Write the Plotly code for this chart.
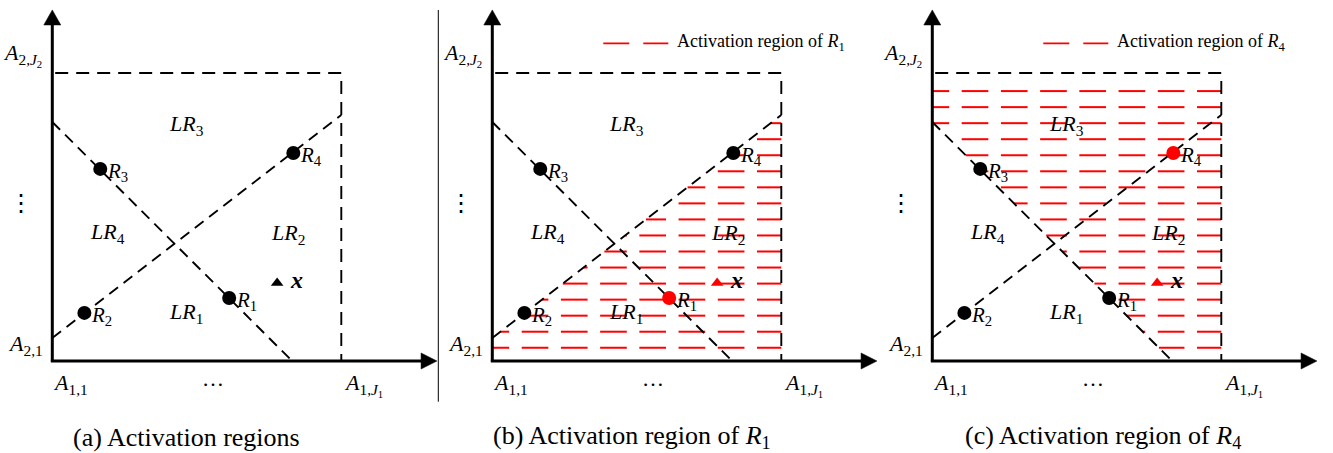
import plotly.graph_objects as go

# ---------------- data (normalised attribute space) ----------------
# A_{1,1}..A_{1,J1} -> 0..1 on the horizontal axis, A_{2,1}..A_{2,J2} -> 0..1 on the vertical axis
rule_names = ["R1", "R2", "R3", "R4"]
rule_x = [0.612, 0.111, 0.166, 0.834]
rule_y = [0.219, 0.167, 0.667, 0.722]

input_x = [0.778]
input_y = [0.271]

# boundary lines between local regions (end points)
boundary1_x = [0.0, 0.83]
boundary1_y = [0.83, 0.0]
boundary2_x = [0.0, 1.0]
boundary2_y = [0.08, 0.854]

# dashed frame of the attribute space
frame_x = [0.01, 1.0, 1.0]
frame_y = [1.0, 1.0, 0.0]

region_names = ["LR1", "LR2", "LR3", "LR4"]
region_label_x = [0.462, 0.815, 0.465, 0.190]
region_label_y = [0.168, 0.441, 0.819, 0.446]

captions = ["(a) Activation regions",
            "(b) Activation region of <i>R</i><sub>1</sub>",
            "(c) Activation region of <i>R</i><sub>4</sub>"]
caption_x = [0.465, 0.482, 0.589]
legend_texts = [None, "Activation region of <i>R</i><sub>1</sub>", "Activation region of <i>R</i><sub>4</sub>"]
active_rule = [None, 0, 3]          # index of highlighted rule per panel
hatch_side = [None, "below2", "above1"]

# ---------------- style / geometry constants ----------------
FONT = "Liberation Serif"
RED = "#ff0000"
BLACK = "#000000"
W, H = 1333, 453
PX_X, PX_Y = 289.0, 288.0            # pixels per unit
ORIG_PX = 52.3                       # y-axis pixel offset inside a panel
ORIG_PY = 361.0                      # x-axis pixel row
panel_px = [(0, 440), (440, 880), (880, 1333)]

YR = [(ORIG_PY - H) / PX_Y, ORIG_PY / PX_Y]

fig = go.Figure()
layout_axes = {}
for i, (p0, p1) in enumerate(panel_px):
    sfx = "" if i == 0 else str(i + 1)
    xr0 = -ORIG_PX / PX_X
    xr1 = xr0 + (p1 - p0) / PX_X
    layout_axes["xaxis" + sfx] = dict(domain=[p0 / W, p1 / W], range=[xr0, xr1], visible=False,
                                      fixedrange=True, anchor="y" + sfx)
    layout_axes["yaxis" + sfx] = dict(domain=[0, 1], range=YR, visible=False, fixedrange=True,
                                      anchor="x" + sfx)


def x_on_line(lx, ly, y):
    return lx[0] + (y - ly[0]) * (lx[1] - lx[0]) / (ly[1] - ly[0])


# hatch pattern (style): rows and dash columns
ROW0, ROW_STEP, N_ROWS = 0.046, 0.0557, 17
COL0, COL_STEP, DASH, N_COLS = -0.034, 0.1357, 0.0923, 9

shapes = []
annotations = []

for i in range(3):
    sfx = "" if i == 0 else str(i + 1)
    xa, ya = "x" + sfx, "y" + sfx

    # ---- hatching of activation region ----
    if hatch_side[i] is not None:
        hx, hy = [], []
        for k in range(N_ROWS):
            y = ROW0 + k * ROW_STEP
            if y > frame_y[0]:
                continue
            if hatch_side[i] == "below2":
                if y >= boundary2_y[1]:
                    continue
                xmin = max(0.0, x_on_line(boundary2_x, boundary2_y, y))
            else:
                xmin = max(0.0, x_on_line(boundary1_x, boundary1_y, y))
            xmax = 1.0
            for c in range(N_COLS):
                s = COL0 + c * COL_STEP
                e = s + DASH
                a, b = max(s, xmin), min(e, xmax)
                if b > a:
                    hx += [a, b, None]
                    hy += [y, y, None]
        fig.add_trace(go.Scatter(x=hx, y=hy, mode="lines", xaxis=xa, yaxis=ya,
                                 line=dict(color=RED, width=2), hoverinfo="skip", showlegend=False))

    # ---- dashed frame and boundaries ----
    fig.add_trace(go.Scatter(x=frame_x, y=frame_y, mode="lines", xaxis=xa, yaxis=ya,
                             line=dict(color=BLACK, width=1.9, dash="13px,8px"),
                             hoverinfo="skip", showlegend=False))
    for lx, ly in [(boundary1_x, boundary1_y), (boundary2_x, boundary2_y)]:
        fig.add_trace(go.Scatter(x=lx, y=ly, mode="lines", xaxis=xa, yaxis=ya,
                                 line=dict(color=BLACK, width=1.9, dash="11px,7px"),
                                 hoverinfo="skip", showlegend=False))

    # ---- rules and input ----
    colors = [RED if active_rule[i] == j else BLACK for j in range(len(rule_names))]
    fig.add_trace(go.Scatter(x=rule_x, y=rule_y, mode="markers", xaxis=xa, yaxis=ya,
                             marker=dict(symbol="circle", size=14, color=colors, line=dict(width=0)),
                             hoverinfo="skip", showlegend=False))
    fig.add_trace(go.Scatter(x=input_x, y=input_y, mode="markers", xaxis=xa, yaxis=ya,
                             marker=dict(symbol="triangle-up", size=11,
                                         color=BLACK if i == 0 else RED, line=dict(width=0)),
                             hoverinfo="skip", showlegend=False))

    # ---- axes with arrows ----
    shapes.append(dict(type="line", xref=xa, yref=ya, x0=0, y0=-0.003, x1=0, y1=1.17,
                       line=dict(color=BLACK, width=3)))
    shapes.append(dict(type="line", xref=xa, yref=ya, x0=-0.005, y0=0, x1=1.28, y1=0,
                       line=dict(color=BLACK, width=3)))
    shapes.append(dict(type="path", xref=xa, yref=ya,
                       path="M -0.0294,1.1667 L 0.0294,1.1667 L 0,1.219 Z",
                       fillcolor=BLACK, line=dict(color=BLACK, width=0.5)))
    shapes.append(dict(type="path", xref=xa, yref=ya,
                       path="M 1.276,-0.0278 L 1.276,0.0278 L 1.331,0 Z",
                       fillcolor=BLACK, line=dict(color=BLACK, width=0.5)))

    # ---- texts ----
    def ann(x, y, text, size, xanchor="center", yanchor="middle", xshift=0, yshift=0,
            color=BLACK, family=FONT):
        annotations.append(dict(x=x, y=y, xref=xa, yref=ya, text=text, showarrow=False,
                                xanchor=xanchor, yanchor=yanchor, xshift=xshift, yshift=yshift,
                                font=dict(family=family, size=size, color=color)))

    for name, lx, ly in zip(region_names, region_label_x, region_label_y):
        ann(lx, ly, "<i>%s</i><sub>%s</sub>" % (name[:2], name[2:]), 22)
    for name, rx, ry in zip(rule_names, rule_x, rule_y):
        ann(rx, ry, "<i>%s</i><sub>%s</sub>" % (name[0], name[1:]), 21,
            xanchor="left", xshift=5, yshift=-3)
    ann(input_x[0], input_y[0], "<b><i>x</i></b>", 24, xanchor="left", xshift=11, yshift=3)

    ann(-0.029, 1.0625, "<i>A</i><sub>2,<i>J</i><sub>2</sub></sub>", 22, xanchor="right")
    ann(-0.025, 0.0556, "<i>A</i><sub>2,1</sub>", 22, xanchor="right")
    ann(0.064, -0.080, "<i>A</i><sub>1,1</sub>", 22)
    ann(1.076, -0.083, "<i>A</i><sub>1,<i>J</i><sub>1</sub></sub>", 22)
    ann(-0.109, 0.549, "⋮", 24, family="DejaVu Serif")
    ann(0.557, -0.060, "…", 22)
    ann(caption_x[i], -0.264, captions[i], 26)

    if legend_texts[i] is not None:
        shapes.append(dict(type="line", xref=xa, yref=ya, x0=0.384, y0=1.103, x1=0.609, y1=1.103,
                           line=dict(color=RED, width=1.6, dash="26px,14px")))
        ann(0.632, 1.106, legend_texts[i], 18, xanchor="left")

# separator between panel (a) and (b)
shapes.append(dict(type="line", xref="paper", yref="paper", x0=438.3 / W, x1=438.3 / W,
                   y0=1 - 10 / H, y1=1 - 401.7 / H, line=dict(color=BLACK, width=1)))

fig.update_layout(width=W, height=H, margin=dict(l=0, r=0, t=0, b=0),
                  paper_bgcolor="white", plot_bgcolor="white",
                  shapes=shapes, annotations=annotations, showlegend=False, **layout_axes)

fig.write_html("out.html", config={"displayModeBar": False},
               post_script="document.body.style.margin='0';document.body.style.overflow='hidden';")
